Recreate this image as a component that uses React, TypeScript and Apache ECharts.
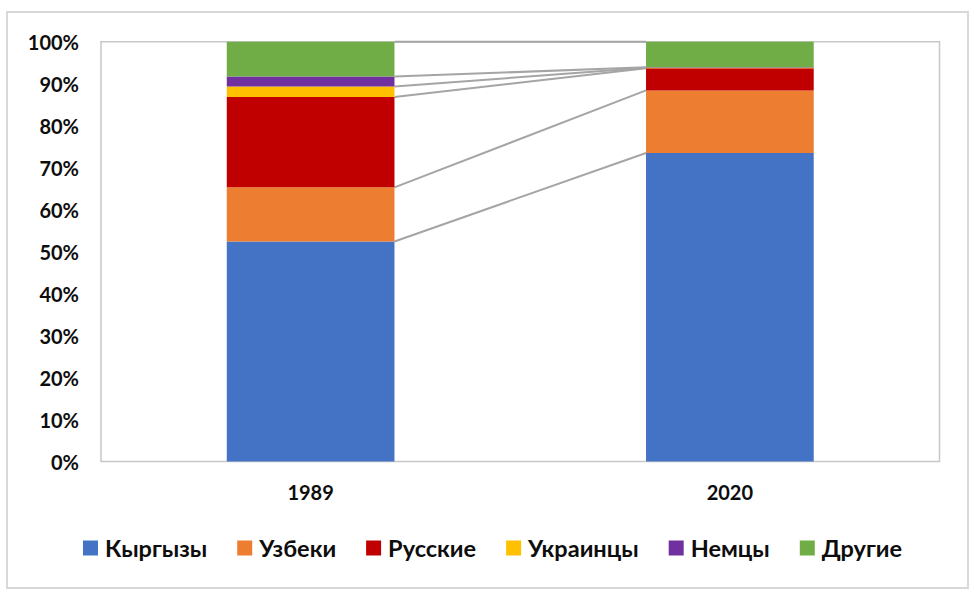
import React, { useEffect, useRef } from "react";
import * as echarts from "echarts";

const categories = ["1989", "2020"];
const seriesNames = ["Кыргызы", "Узбеки", "Русские", "Украинцы", "Немцы", "Другие"];
const values1989 = [52.4, 12.9, 21.5, 2.5, 2.4, 8.3];
const values2020 = [73.5, 14.9, 5.3, 0.1, 0.1, 6.1];
const colors = ["#4472C4", "#ED7D31", "#C00000", "#FFC000", "#7030A0", "#70AD47"];
const yTicks = [0, 10, 20, 30, 40, 50, 60, 70, 80, 90, 100];

const FONT = "Lato, 'Open Sans', 'Noto Sans', sans-serif";

export default function App() {
  const ref = useRef<HTMLDivElement>(null);
  useEffect(() => {
    if (!ref.current) return;
    const chart = echarts.init(ref.current, null, { renderer: "svg" });

    // cumulative tops for series lines
    const lineData: number[][] = [];
    let c1 = 0;
    let c2 = 0;
    for (let i = 0; i < seriesNames.length; i++) {
      c1 += values1989[i];
      c2 += values2020[i];
      lineData.push([0, +c1.toFixed(2), +c2.toFixed(2)]);
    }

    const barSeries = seriesNames.map((name, i) => ({
      name,
      type: "bar",
      stack: "total",
      barWidth: "40%",
      itemStyle: { color: colors[i] },
      data: [values1989[i], values2020[i]],
      z: 3,
    }));

    chart.setOption({
      animation: false,
      backgroundColor: "#ffffff",
      textStyle: { fontFamily: FONT },
      graphic: [
        {
          type: "rect",
          shape: { x: 7, y: 12, width: 961, height: 576 },
          style: { fill: "none", stroke: "#d9d9d9", lineWidth: 2 },
          silent: true,
          z: -10,
        },
      ],
      grid: {
        left: 101,
        right: 33.5,
        top: 41.7,
        bottom: 138.5,
        show: true,
        borderColor: "#c8c8c8",
        borderWidth: 1.5,
        backgroundColor: "transparent",
      },
      legend: {
        data: seriesNames,
        left: 78,
        top: 531,
        itemWidth: 15,
        itemHeight: 15,
        itemGap: 30,
        icon: "rect",
        textStyle: {
          fontFamily: FONT,
          fontSize: 23.5,
          fontWeight: "bold",
          color: "#0d0d0d",
          padding: [0, 0, 0, 2],
        },
      },
      xAxis: {
        type: "category",
        data: categories,
        axisLine: { show: false },
        axisTick: { show: false },
        axisLabel: {
          margin: 20,
          fontFamily: FONT,
          fontSize: 20,
          fontWeight: "bold",
          color: "#0d0d0d",
        },
      },
      yAxis: {
        type: "value",
        min: 0,
        max: 100,
        interval: 10,
        axisLine: { show: false },
        axisTick: { show: false },
        splitLine: { show: false },
        axisLabel: {
          margin: 22,
          fontFamily: FONT,
          fontSize: 20,
          fontWeight: "bold",
          color: "#0d0d0d",
          formatter: (v: number) => (yTicks.includes(v) ? v + "%" : ""),
        },
      },
      series: [
        ...barSeries,
        {
          type: "custom",
          name: "seriesLines",
          data: lineData,
          encode: { x: 0, y: 1 },
          z: 2,
          silent: true,
          renderItem: (params: any, api: any) => {
            const v1 = api.value(1);
            const v2 = api.value(2);
            const band = api.size([1, 0])[0];
            const half = band * 0.2;
            const p1 = api.coord([0, v1]);
            const p2 = api.coord([1, v2]);
            return {
              type: "line",
              shape: { x1: p1[0] + half, y1: p1[1], x2: p2[0] - half, y2: p2[1] },
              style: { stroke: "#a5a5a5", lineWidth: 2 },
            };
          },
        },
      ],
    });
    return () => chart.dispose();
  }, []);
  return (
    <div
      ref={ref}
      style={{ position: "absolute", left: 0, top: 0, width: 973, height: 600 }}
    />
  );
}
